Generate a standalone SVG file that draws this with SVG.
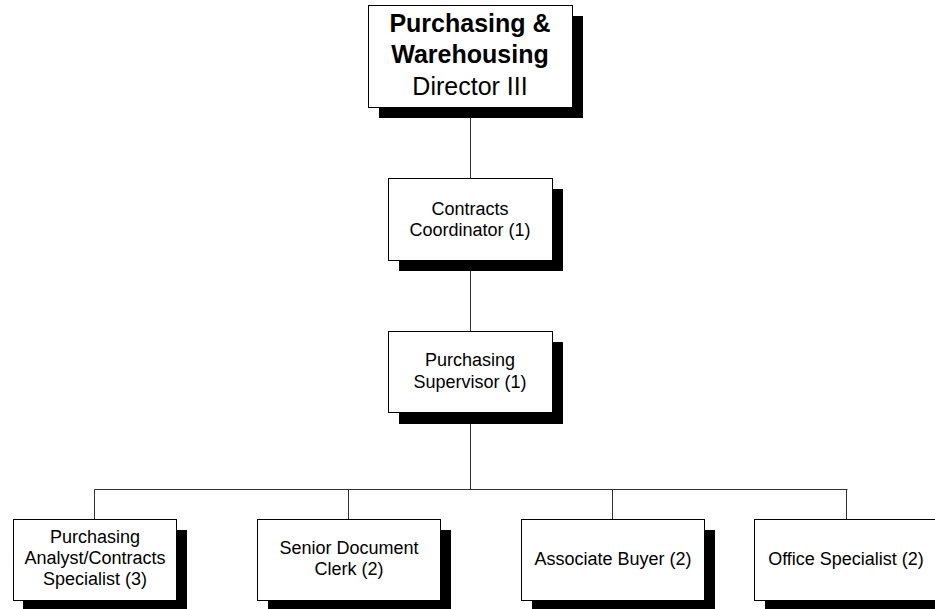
<svg xmlns="http://www.w3.org/2000/svg" width="935" height="609" viewBox="0 0 935 609">
  <style>
    .box { fill: #ffffff; stroke: #000000; stroke-width: 1; }
    .shadow { fill: #000000; stroke: none; }
    .link { fill: none; stroke: #333333; stroke-width: 1; }
    text { font-family: "Liberation Sans", Arial, sans-serif; fill: #000000; text-anchor: middle; }
    .t { font-size: 18px; }
    .big { font-size: 25px; }
    .bold { font-weight: bold; }
  </style>
  <rect width="935" height="609" fill="#ffffff"/>

  <!-- connectors -->
  <g id="connectors">
    <line class="link" x1="470.5" y1="107" x2="470.5" y2="178"/>
    <line class="link" x1="470.5" y1="260" x2="470.5" y2="331"/>
    <line class="link" x1="470.5" y1="412" x2="470.5" y2="489.5"/>
    <line class="link" x1="94.5" y1="489.5" x2="847.5" y2="489.5"/>
    <line class="link" x1="94.5" y1="489.5" x2="94.5" y2="519"/>
    <line class="link" x1="348.5" y1="489.5" x2="348.5" y2="519"/>
    <line class="link" x1="612.5" y1="489.5" x2="612.5" y2="519"/>
    <line class="link" x1="846.5" y1="489.5" x2="846.5" y2="519"/>
  </g>

  <!-- director -->
  <g id="director">
    <rect class="shadow" x="379" y="16" width="204" height="102"/>
    <rect class="box" x="368.5" y="5.5" width="204" height="102"/>
    <text class="big bold" x="470" y="32">Purchasing &amp;</text>
    <text class="big bold" x="470" y="63">Warehousing</text>
    <text class="big" x="470" y="95">Director III</text>
  </g>

  <!-- contracts coordinator -->
  <g id="contracts-coordinator">
    <rect class="shadow" x="399" y="189" width="164" height="82"/>
    <rect class="box" x="388.5" y="178.5" width="164" height="82"/>
    <text class="t" x="470" y="215">Contracts</text>
    <text class="t" x="470" y="236">Coordinator (1)</text>
  </g>

  <!-- purchasing supervisor -->
  <g id="purchasing-supervisor">
    <rect class="shadow" x="399" y="342" width="164" height="82"/>
    <rect class="box" x="388.5" y="331.5" width="164" height="81"/>
    <text class="t" x="470" y="366">Purchasing</text>
    <text class="t" x="470" y="388">Supervisor (1)</text>
  </g>

  <!-- analyst / contracts specialist -->
  <g id="analyst">
    <rect class="shadow" x="23" y="530" width="164" height="82"/>
    <rect class="box" x="13.5" y="519.5" width="163" height="81"/>
    <text class="t" x="95" y="543">Purchasing</text>
    <text class="t" x="95" y="564">Analyst/Contracts</text>
    <text class="t" x="95" y="585">Specialist (3)</text>
  </g>

  <!-- senior document clerk -->
  <g id="document-clerk">
    <rect class="shadow" x="268" y="530" width="183" height="82"/>
    <rect class="box" x="257.5" y="519.5" width="183" height="81"/>
    <text class="t" x="349" y="554">Senior Document</text>
    <text class="t" x="349" y="575">Clerk (2)</text>
  </g>

  <!-- associate buyer -->
  <g id="associate-buyer">
    <rect class="shadow" x="532" y="530" width="183" height="82"/>
    <rect class="box" x="521.5" y="519.5" width="183" height="81"/>
    <text class="t" x="613" y="565">Associate Buyer (2)</text>
  </g>

  <!-- office specialist -->
  <g id="office-specialist">
    <rect class="shadow" x="765" y="530" width="183" height="82"/>
    <rect class="box" x="754.5" y="519.5" width="183" height="81"/>
    <text class="t" x="846" y="565">Office Specialist (2)</text>
  </g>
</svg>
